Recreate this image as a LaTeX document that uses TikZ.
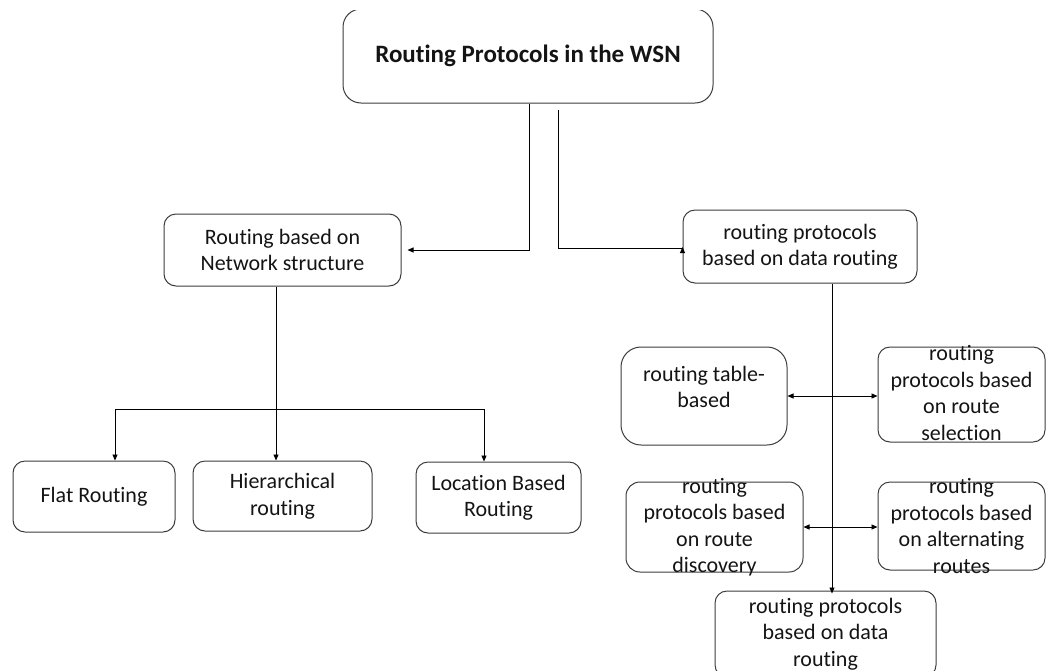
\documentclass[tikz,border=0pt]{standalone}
\usepackage{fontspec}
\setmainfont{Carlito}[Ligatures=NoCommon]
\usetikzlibrary{arrows.meta}
\definecolor{edgec}{HTML}{3C3C3C}
\definecolor{inkc}{HTML}{141414}
\begin{document}
\begin{tikzpicture}[x=1pt,y=-1pt,
  box/.style={draw=edgec, line width=1pt, rounded corners=#1, inner sep=0pt},
  box/.default=12pt,
  txt/.style={text=inkc, align=center, inner sep=0pt,
    font=\fontsize{22}{26.5}\selectfont},
  conn/.style={draw=black, line width=0.9pt, -{Triangle[length=6pt,width=5pt]}},
  dconn/.style={draw=black, line width=0.9pt,
    {Triangle[length=6pt,width=5pt]}-{Triangle[length=6pt,width=5pt]}}]
\useasboundingbox (0,0) rectangle (1046,670);
\clip (0,10) rectangle (1046,670);

% frames
\node[box=18pt, minimum width=370pt, minimum height=94pt] (top) at (528,56) {};
\node[box, minimum width=237pt, minimum height=72pt] (lm) at (282.5,250) {};
\node[box, minimum width=234pt, minimum height=73pt] (rm) at (800,246.5) {};
\node[box, minimum width=162pt, minimum height=71pt] (flat) at (94,496.5) {};
\node[box, minimum width=179pt, minimum height=70pt] (hier) at (282.5,496) {};
\node[box, minimum width=165pt, minimum height=71pt] (loc) at (498.5,497.5) {};
\node[box=20pt, minimum width=166pt, minimum height=98pt] (table) at (704,396) {};
\node[box, minimum width=167pt, minimum height=95pt] (sel) at (961.5,394.5) {};
\node[box=14pt, minimum width=177pt, minimum height=90pt] (disc) at (714.5,527) {};
\node[box, minimum width=167pt, minimum height=88pt] (alt) at (961.5,526) {};
\node[box, minimum width=221pt, minimum height=86pt] (bot) at (825.5,634) {};

% labels
\node[txt, font=\fontsize{25}{30}\selectfont\bfseries] at (top) {Routing Protocols in the WSN};
\node[txt] at (lm) {Routing based on\\Network structure};
\node[txt] at (rm) {routing protocols\\based on data routing};
\node[txt] at (flat) {Flat Routing};
\node[txt] at (hier) {Hierarchical\\routing};
\node[txt] at (loc) {Location Based\\Routing};
\node[txt] at ([yshift=9pt]table.center) {routing table-\\based};
\node[txt] at ([yshift=1.5pt]sel.center) {routing\\protocols based\\on route\\selection};
\node[txt] at (disc) {routing\\protocols based\\on route\\discovery};
\node[txt] at (alt) {routing\\protocols based\\on alternating\\routes};
\node[txt] at (bot) {routing protocols\\based on data\\routing};

% connectors
\coordinate (s2) at (558,110);
\coordinate (split) at (276,409);
\draw[conn] ([xshift=1pt]top.south) |- ([xshift=6pt]lm.east);
\draw[conn] (s2) |- ([yshift=-1.5pt]rm.west) -- ++(0,-1);
\draw[conn] ([xshift=-6.5pt]lm.south) -- ([xshift=-6.5pt]hier.north);
\draw[conn] (split) -| ([xshift=21pt]flat.north);
\draw[conn] (split) -| ([xshift=-14.5pt]loc.north);
\draw[conn] ([xshift=32pt]rm.south) -- ([xshift=32pt,yshift=-3pt]rm.south |- bot.north);
\draw[dconn] (table.east) -- (table.east -| sel.west);
\draw[dconn] (disc.east) -- (disc.east -| alt.west);
\end{tikzpicture}
\end{document}
